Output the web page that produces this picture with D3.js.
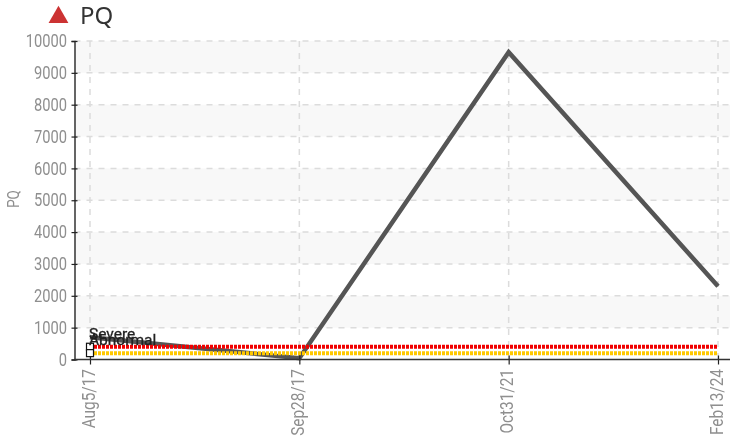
<!DOCTYPE html>
<html>
<head>
<meta charset="utf-8">
<script src="https://cdn.jsdelivr.net/npm/d3@7"></script>
<style>
  html, body { margin: 0; padding: 0; background: #fff; }
  svg { display: block; filter: blur(0.4px); }
  .tick text, .y_label { font-family: Roboto, sans-serif; fill: #8f8f8f; }
</style>
</head>
<body>
<svg width="730" height="439"></svg>
<script>
var svg = d3.select('svg');

var dates = ['Aug5/17', 'Sep28/17', 'Oct31/21', 'Feb13/24'];
var pqValues = [700, 40, 9650, 2300];
var yTicks = [0, 1000, 2000, 3000, 4000, 5000, 6000, 7000, 8000, 9000, 10000];
var bandStarts = [1000, 3000, 5000, 7000, 9000];
var levelNames = ['Severe', 'Abnormal'];
var levelValues = [400, 200];
var levelColors = ['#f00000', '#ffc800'];

var plotLeft = 74.5, plotRight = 730, plotTop = 41, plotBottom = 359.5;
var narrow = 0.84; // tick labels are a condensed face in the original

var x = d3.scalePoint().domain(dates).range([90, 718]);
var y = d3.scaleLinear().domain([0, 10000]).range([plotBottom, plotTop]);

// shaded bands behind the grid
svg.append('g').selectAll('rect')
  .data(bandStarts)
  .join('rect')
    .attr('x', plotLeft)
    .attr('y', d => y(d + 1000))
    .attr('width', plotRight - plotLeft)
    .attr('height', d => y(d) - y(d + 1000))
    .attr('fill', '#f8f8f8');

// dashed grid
var grid = svg.append('g')
  .attr('stroke', '#dcdcdc')
  .attr('stroke-width', 1.5)
  .attr('stroke-dasharray', '6,6');
grid.selectAll('.h')
  .data(yTicks.slice(1))
  .join('line')
    .attr('class', 'h')
    .attr('x1', plotLeft).attr('x2', plotRight)
    .attr('y1', d => y(d)).attr('y2', d => y(d));
grid.selectAll('.v')
  .data(dates)
  .join('line')
    .attr('class', 'v')
    .attr('x1', d => x(d)).attr('x2', d => x(d))
    .attr('y1', plotTop).attr('y2', plotBottom);

// the PQ line
var line = d3.line().x((d, i) => x(dates[i])).y(d => y(d));
svg.append('path')
  .datum(pqValues)
  .attr('d', line)
  .attr('fill', 'none')
  .attr('stroke', '#555')
  .attr('stroke-width', 4.5);

// threshold lines
svg.append('g').selectAll('line')
  .data(levelValues)
  .join('line')
    .attr('x1', x(dates[0])).attr('x2', x(dates[3]))
    .attr('y1', d => y(d)).attr('y2', d => y(d))
    .attr('stroke', (d, i) => levelColors[i])
    .attr('stroke-width', 4)
    .attr('stroke-dasharray', '3,1');

// axes
var yAxis = svg.append('g')
  .attr('transform', 'translate(' + plotLeft + ',0)')
  .call(d3.axisLeft(y).tickValues(yTicks).tickFormat(d3.format('d')).tickSize(3).tickPadding(4));
yAxis.select('.domain').attr('stroke', '#333').attr('stroke-width', 1.5);
yAxis.selectAll('.tick line').attr('x2', -3).attr('x1', 3).attr('stroke', '#222').attr('stroke-width', 1.2);
yAxis.selectAll('.tick text')
  .style('font-size', '17.5px')
  .attr('x', -7.5 / narrow)
  .attr('transform', 'scale(' + narrow + ',1)');

var xAxis = svg.append('g')
  .attr('transform', 'translate(0,' + plotBottom + ')')
  .call(d3.axisBottom(x).tickSize(5).tickPadding(8));
xAxis.select('.domain').remove();
xAxis.append('line')
  .attr('x1', plotLeft).attr('x2', plotRight)
  .attr('stroke', '#333').attr('stroke-width', 1.5);
xAxis.selectAll('.tick line').attr('y1', -4).attr('stroke', '#222').attr('stroke-width', 1.2);
xAxis.selectAll('.tick text')
  .style('font-size', '17.5px')
  .attr('text-anchor', 'end')
  .attr('transform', 'rotate(-90)scale(0.88,1)')
  .attr('x', -9.5 / 0.88).attr('y', -2).attr('dy', '0.35em');

svg.append('text')
  .attr('class', 'y_label')
  .attr('transform', 'translate(19,199)rotate(-90)scale(' + narrow + ',1)')
  .attr('text-anchor', 'middle')
  .style('font-size', '16px')
  .text('PQ');

// threshold markers and their labels, these overlap in the original too
svg.append('g').selectAll('rect')
  .data(levelValues)
  .join('rect')
    .attr('x', x(dates[0]) - 3.5)
    .attr('y', d => y(d) - 3.5)
    .attr('width', 7).attr('height', 7)
    .attr('fill', '#fff')
    .attr('stroke', '#111')
    .attr('stroke-width', 1.2);
svg.append('g').selectAll('text')
  .data(levelNames)
  .join('text')
    .attr('x', x(dates[0]) - 1)
    .attr('y', (d, i) => y(levelValues[i]) - 8)
    .attr('font-family', 'Roboto, sans-serif')
    .attr('font-size', '15.5px')
    .attr('fill', '#222')
    .attr('stroke', '#222')
    .attr('stroke-width', 0.3)
    .text(d => d);

// title
svg.append('path')
  .attr('d', d3.symbol(d3.symbolTriangle, 170))
  .attr('transform', 'translate(58.5,17.3)')
  .attr('fill', '#cc3333');
svg.append('text')
  .attr('x', 80).attr('y', 24)
  .attr('font-family', '"Noto Sans", sans-serif')
  .attr('font-size', '24px')
  .attr('fill', '#333')
  .text('PQ');
</script>
</body>
</html>
